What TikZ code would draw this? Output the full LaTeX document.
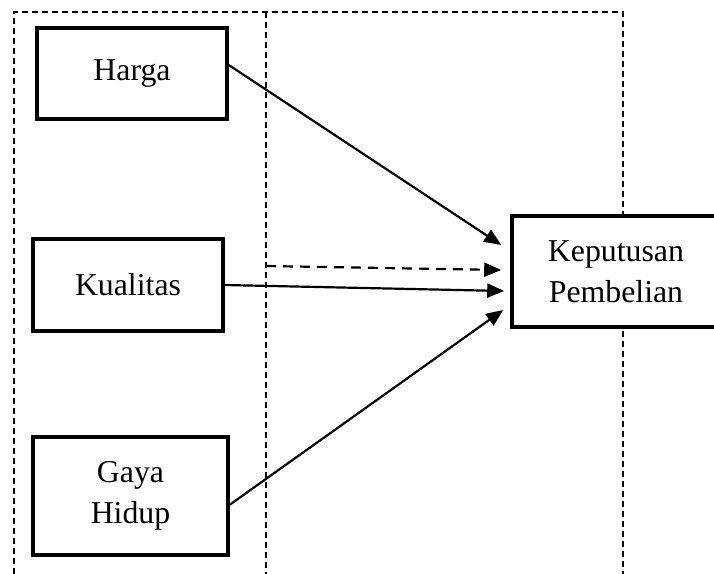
\documentclass[tikz,border=0pt]{standalone}
\usepackage{fontspec}
\setmainfont{Liberation Serif}
\usetikzlibrary{arrows.meta}

\begin{document}
\begin{tikzpicture}[x=0.5pt, y=-0.5pt,
  varbox/.style={draw, line width=1.8pt, fill=white, align=center, inner sep=0pt,
    font=\fontsize{15.9}{20.3}\selectfont},
  link/.style={-{Triangle[length=8.5pt, width=7pt]}, line width=1.1pt},
  frame/.style={line width=1pt, dash pattern=on 3pt off 2pt}]
  \useasboundingbox (0,0) rectangle (714,574);

  % Draw the dashed frame lines
  \draw[frame] (14,574) -- (14,12) -- (623,12) -- (623,574);
  \draw[frame] (266,12) -- (266,574);

  % Add the boxes
  \node[varbox, minimum width=95pt, minimum height=45.5pt] (harga) at (132,73.5) {Harga};
  \node[varbox, minimum width=95pt, minimum height=46pt] (kualitas) at (128,285) {Kualitas};
  \node[varbox, minimum width=97.5pt, minimum height=59pt] (gaya) at (130.5,496) {Gaya\\Hidup};
  \node[varbox, minimum width=104pt, minimum height=55.5pt] (keputusan) at (616,271.5) {Keputusan\\Pembelian};
  \coordinate (dstart) at (266,266);

  % Add arrows into the decision box
  \draw[link] (harga.5) -- ([xshift=-4.5pt, yshift=13.25pt]keputusan.west);
  \draw[link, dash pattern=on 5pt off 3.5pt] (dstart) -- ([xshift=-4.5pt, yshift=0.75pt]keputusan.west);
  \draw[link] (kualitas.east) -- ([xshift=-3pt, yshift=-9.75pt]keputusan.west);
  \draw[link] (gaya.-5) -- ([xshift=-3.5pt, yshift=-19.25pt]keputusan.west);
\end{tikzpicture}
\end{document}
